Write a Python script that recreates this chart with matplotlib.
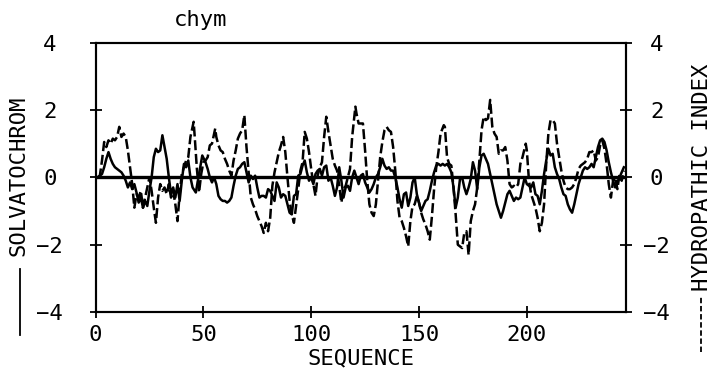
import matplotlib
matplotlib.use("Agg")
import matplotlib.pyplot as plt
from matplotlib.lines import Line2D

# hydropathic index (dashed)
hydro_x = [1, 2, 3, 4, 5, 6, 7, 8, 9, 10, 11, 12, 13, 14, 15, 16, 17, 18, 19, 20,
           21, 22, 23, 24, 25, 26, 27, 28, 29, 30, 31, 32, 33, 34, 35, 36, 37, 38, 39, 40,
           41, 42, 43, 44, 45.5, 46, 47, 48, 49, 50, 51, 52, 53, 54, 55.5, 56, 57, 58, 59, 60,
           61, 62, 63, 64, 65, 66, 67, 68, 69, 70, 71, 72, 73, 74, 75, 76, 77, 78, 79, 80,
           81, 82, 83, 84, 85, 86, 87, 88, 89, 90, 91, 92, 93, 94, 95, 96, 97, 98, 99, 100,
           101, 102, 103, 104, 105, 106, 107, 108, 109, 110, 111, 112, 113, 114, 115, 116, 117, 118, 119, 120.5,
           121, 122, 123, 124, 125, 126, 127, 128, 129, 130, 131, 132, 133, 134, 135, 136, 137, 138, 139, 140,
           141, 142, 143, 144, 145, 146, 147, 148, 149, 150, 151, 152, 153, 154, 155, 156, 157, 158, 159, 160,
           161.5, 162, 163, 164, 165, 166, 167, 168, 169, 170, 171, 172, 173, 174, 175, 176, 177, 178, 179, 180,
           181, 182, 183, 184, 185, 186, 187, 188, 189, 190, 191, 192, 193, 194, 195, 196, 197, 198, 199.5, 200,
           201, 202, 203, 204, 205, 206, 207, 208, 209, 210, 211, 212, 213, 214, 215, 216, 217, 218, 219, 220,
           221, 222, 223, 224, 225, 226, 227, 228, 229, 230, 231, 232, 233, 234, 235, 236, 237, 238, 239, 240,
           241, 242, 243, 244, 245]
hydro_y = [0.0, 0.05, 0.5, 1.05, 0.9, 1.1, 1.0, 1.15, 1.1, 1.2, 1.5, 1.2, 1.3, 1.2, 0.8, 0.3, -0.2, -0.9, -0.5, -0.6,
           -0.4, -0.9, -0.6, -0.3, 0.0, -0.4, -0.9, -1.35, -0.6, -0.2, -0.4, -0.3, -0.5, -0.2, -0.6, -0.4, -0.8, -1.3, -0.5, 0.1,
           0.3, 0.5, 0.6, 1.2, 1.65, 1.2, 0.25, -0.45, 0.1, 0.45, 0.5, 0.6, 0.95, 1.0, 1.45, 1.2, 0.95, 0.8, 0.75, 0.55,
           0.4, 0.2, 0.05, 0.5, 0.8, 1.15, 1.3, 1.4, 1.85, 0.9, 0.15, -0.6, -0.8, -0.95, -1.15, -1.3, -1.45, -1.65, -1.35, -1.6,
           -1.2, -0.25, 0.15, 0.45, 0.75, 0.95, 1.2, 0.75, 0.0, -0.7, -1.1, -1.35, -0.85, -0.35, 0.2, 0.45, 1.35, 1.15, 0.75, 0.25,
           -0.2, -0.55, 0.05, 0.3, 0.45, 1.2, 1.8, 1.35, 0.95, 0.55, 0.35, 0.2, -0.25, -0.75, -0.35, -0.25, 0.0, 0.25, 1.2, 2.1,
           1.9, 1.6, 1.6, 1.6, 0.8, -0.1, -0.8, -1.05, -1.15, -0.8, -0.1, 0.6, 1.05, 1.4, 1.5, 1.4, 1.35, 0.9, 0.2, -0.7,
           -1.2, -1.3, -1.5, -1.75, -2.05, -1.3, -0.85, -0.8, -0.55, -0.75, -1.05, -1.25, -1.4, -1.6, -1.85, -1.15, -0.35, 0.3, 0.75, 1.3,
           1.55, 1.5, 0.6, 0.4, 0.35, -0.3, -1.1, -2.0, -2.05, -2.1, -1.65, -1.6, -2.3, -1.3, -1.0, -0.8, -0.3, 0.5, 1.4, 1.8,
           1.7, 1.75, 2.3, 1.5, 1.3, 1.2, 0.7, 0.8, 0.8, 0.9, 0.5, -0.2, -0.3, -0.25, -0.3, -0.2, 0.4, 0.6, 1.0, 0.8,
           -0.1, -0.5, -0.7, -0.9, -1.2, -1.6, -1.35, -0.8, 0.4, 1.3, 1.7, 1.7, 1.6, 1.0, 0.6, 0.2, -0.1, -0.3, -0.35, -0.35,
           -0.3, -0.2, 0.0, 0.25, 0.35, 0.4, 0.45, 0.55, 0.75, 0.75, 0.8, 0.5, 0.6, 0.95, 1.1, 0.85, 0.4, -0.2, -0.6, -0.1,
           0.0, -0.35, 0.1, -0.1, 0.2]

# solvatochromic (solid line)
solv_x = list(range(1, 46)) + [46.5, 48, 49.5] + list(range(51, 246))
solv_y = [0.0, 0.05, 0.1, 0.3, 0.55, 0.75, 0.55, 0.4, 0.3, 0.25, 0.2, 0.15, 0.05, -0.1, -0.3, -0.15, -0.35, -0.2, -0.45, -0.75,
          -0.6, -0.9, -0.7, -0.85, -0.4, 0.0, 0.6, 0.85, 0.75, 0.8, 1.25, 0.9, 0.55, 0.0, -0.5, -0.3, -0.6, -0.2, -0.7, -0.1,
          0.4, 0.3, 0.5, 0.0, -0.3, -0.45, 0.1, 0.65,
          0.45, 0.25, 0.0, -0.15, 0.0, -0.2, -0.55, -0.65, -0.7, -0.7, -0.75, -0.7, -0.6, -0.25, 0.05, 0.25, 0.3, 0.4, 0.45, 0.15,
          -0.15, 0.05, -0.05, 0.05, -0.3, -0.6, -0.55, -0.55, -0.6, -0.35, -0.4, -0.55, -0.7, -0.15, -0.3, -0.6, -0.5, -0.55, -0.8, -1.05,
          -1.1, -0.55, -0.5, 0.05, 0.1, 0.35, 0.5, 0.15, -0.1, 0.0, -0.2, 0.1, 0.2, 0.25, 0.05, 0.3, 0.35, -0.1, 0.0, -0.25,
          -0.55, -0.3, 0.3, -0.1, -0.6, -0.3, -0.25, -0.4, 0.0, 0.2, 0.0, -0.2, 0.05, 0.1, -0.15, -0.3, -0.45, -0.35, -0.2, 0.0,
          0.1, 0.3, 0.55, 0.35, 0.25, 0.3, 0.2, 0.2, 0.0, -0.3, -0.65, -0.9, -0.5, -0.45, -0.85, -0.6, -0.15, 0.0, -0.5, -0.75,
          -1.0, -0.85, -0.7, -0.65, -0.4, -0.1, 0.15, 0.35, 0.4, 0.35, 0.4, 0.35, 0.4, 0.3, 0.15, -0.3, -0.9, -0.6, -0.05, 0.0,
          -0.3, -0.5, -0.3, -0.05, 0.45, 0.2, -0.35, 0.3, 0.65, 0.7, 0.55, 0.4, 0.1, -0.2, -0.5, -0.8, -1.0, -1.2, -1.0, -0.75,
          -0.5, -0.4, -0.55, -0.7, -0.6, -0.65, -0.6, -0.3, 0.0, -0.2, -0.25, -0.3, -0.15, -0.5, -0.55, -0.8, -0.4, 0.1, 0.5, 0.85,
          0.65, 0.7, 0.3, 0.1, -0.05, -0.3, -0.5, -0.55, -0.8, -0.95, -1.05, -0.8, -0.5, -0.2, 0.0, 0.2, 0.3, 0.25, 0.3, 0.4,
          0.3, 0.6, 0.9, 1.1, 1.15, 1.05, 0.8, 0.45, 0.15, -0.1, -0.3, -0.15, 0.0, 0.15, 0.3]

x_ticks = [0, 50, 100, 150, 200]
y_ticks = [-4, -2, 0, 2, 4]

plt.rcParams["font.family"] = "DejaVu Sans Mono"
plt.rcParams["font.size"] = 16

fig = plt.figure(figsize=(7.13, 3.81), dpi=100)
ax = fig.add_axes([0.134, 0.181, 0.744, 0.707])
ax2 = ax.twinx()

ax.plot(solv_x, solv_y, color="black", lw=1.8)
ax2.plot(hydro_x, hydro_y, color="black", lw=1.8, dashes=(4, 1.5))
ax.axhline(0, color="black", lw=2.4)

ax.set_xlim(0, 246)
for a in (ax, ax2):
    a.set_ylim(-4, 4)
    a.set_yticks(y_ticks)
    for s in a.spines.values():
        s.set_linewidth(1.5)
ax.set_xticks(x_ticks)
ax.tick_params(axis="x", direction="inout", length=8, width=1.3, pad=5)
ax.tick_params(axis="y", direction="inout", length=8, width=1.3, pad=29)
ax2.tick_params(axis="y", direction="inout", length=8, width=1.3, pad=18)
for lbl in ax.get_yticklabels() + ax2.get_yticklabels():
    lbl.set_horizontalalignment("center")

ax.set_xlabel("SEQUENCE", labelpad=3)
fig.text(0.281, 0.948, "chym", ha="center", va="center")

# axis labels with their line-style keys
fig.text(0.026, 0.538, "SOLVATOCHROM", rotation=90, ha="center", va="center")
fig.add_artist(Line2D([0.028, 0.028], [0.12, 0.295], color="black", lw=1.3))
fig.text(0.985, 0.535, "HYDROPATHIC INDEX", rotation=90, ha="center", va="center")
fig.add_artist(Line2D([0.983, 0.983], [0.075, 0.22], color="black", lw=1.3,
                      dashes=(3, 1.5)))

plt.savefig("out.png", dpi=100)
